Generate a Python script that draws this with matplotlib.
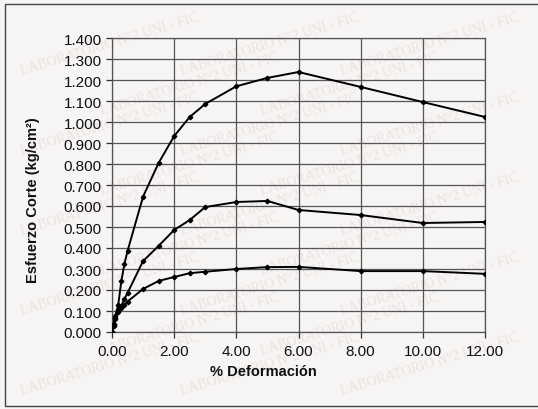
import numpy as np
from matplotlib import pyplot as plt

plt.rcParams['font.family'] = ['Liberation Sans', 'DejaVu Sans']

# % deformacion (same steps for all three tests)
deform = [0.0, 0.05, 0.10, 0.20, 0.30, 0.40, 0.50, 1.00, 1.50, 2.00,
          2.50, 3.00, 4.00, 5.00, 6.00, 8.00, 10.00, 12.00]

# esfuerzo de corte (kg/cm2)
corte_alto = [0.000, 0.040, 0.075, 0.128, 0.243, 0.324, 0.386, 0.645, 0.805, 0.933,
              1.024, 1.086, 1.170, 1.210, 1.238, 1.167, 1.095, 1.024]
corte_medio = [0.000, 0.035, 0.065, 0.105, 0.125, 0.157, 0.186, 0.338, 0.410, 0.486,
               0.533, 0.595, 0.619, 0.624, 0.581, 0.557, 0.519, 0.524]
corte_bajo = [0.000, 0.030, 0.060, 0.095, 0.115, 0.130, 0.145, 0.205, 0.243, 0.262,
              0.280, 0.287, 0.300, 0.309, 0.310, 0.290, 0.290, 0.277]

xticks = [0, 2, 4, 6, 8, 10, 12]
yticks = [0.1 * k for k in range(15)]

W, H = 538, 410
bg = '#f6f5f3'
fig = plt.figure(figsize=(W / 100, H / 100), dpi=100, facecolor=bg)

# marco exterior del grafico
frame = plt.Rectangle((5 / W, 1 - 407 / H), 1.2, 402 / H, transform=fig.transFigure,
                      fill=False, edgecolor='#444444', linewidth=1.0)
fig.patches.append(frame)

# marca de agua (sello del laboratorio), cada copia dentro de la figura
wm = "LABORATORIO N°2 UNI - FIC"
for row in range(9):
    cy = 45 + row * 40
    xs = (110, 270, 430) if row % 2 == 0 else (190, 350)
    for cx in xs:
        fig.text(cx / W, 1 - cy / H, wm, fontsize=10, color='#ebe2e2', family='Liberation Serif',
                 rotation=17, rotation_mode='anchor', ha='center', va='center', zorder=-5)

ax = fig.add_axes([112 / W, 1 - 333 / H, (485 - 112) / W, (333 - 39) / H])
ax.set_facecolor('none')

for serie in (corte_alto, corte_medio, corte_bajo):
    ax.plot(deform, serie, color='black', linewidth=1.4, marker='D', markersize=2.3,
            markerfacecolor='black', zorder=3)

ax.set_xlim(0, 12)
ax.set_ylim(0, 1.4)
ax.set_xticks(xticks)
ax.set_xticklabels(["{:.2f}".format(v) for v in xticks])
ax.set_yticks(yticks)
ax.set_yticklabels(["{:.3f}".format(v) for v in yticks])
ax.grid(True, color='#555555', linewidth=0.9)
ax.set_axisbelow(True)
for s in ax.spines.values():
    s.set_color('#555555')
    s.set_linewidth(0.9)
ax.tick_params(axis='both', labelsize=11, colors='#333333', length=4, width=0.9,
               labelcolor='#111111')
ax.tick_params(axis='x', pad=5)

fig.text(263 / W, 1 - 372 / H, "% Deformación", fontsize=10.5, fontweight='bold',
         ha='center', va='center', color='#111111')
fig.text(33 / W, 1 - 200 / H, "Esfuerzo Corte (kg/cm²)", fontsize=10.5, fontweight='bold',
         ha='center', va='center', rotation=90, color='#111111')

fig.savefig("out.png", dpi=100, facecolor=bg)
